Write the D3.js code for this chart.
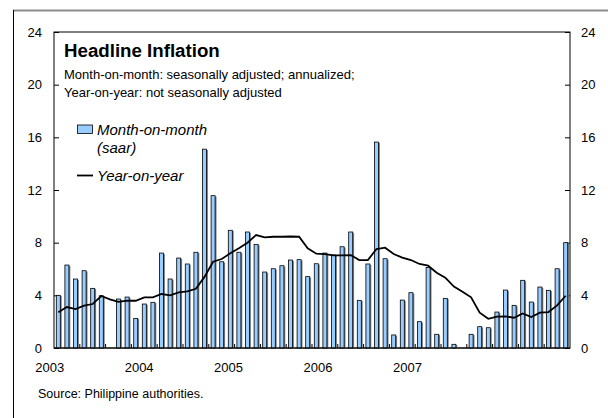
<!DOCTYPE html>
<html><head><meta charset="utf-8">
<script src="https://cdn.jsdelivr.net/npm/d3@7"></script>
<style>body{margin:0;background:#fff}svg{display:block;font-family:"Liberation Sans",Arial,sans-serif}</style>
</head><body><svg id="c" width="608" height="418"></svg>
<script>
const months = d3.range(60).map(i => new Date(2003 + Math.floor(i/12), i%12, 1));
const yearLabels = ["2003","2004","2005","2006","2007"];
const yTicks = [0,4,8,12,16,20,24];
// Month-on-month, seasonally adjusted annualized (null = no bar)
const momValues = [
 4.0, 6.3, 5.24, 5.87, 4.53, 3.97, null, 3.72, 3.87, 2.25, 3.34, 3.47,
 7.21, 5.24, 6.83, 6.38, 7.27, 15.1, 11.57, 6.55, 8.94, 7.27, 8.81, 7.87,
 5.77, 6.02, 6.25, 6.68, 6.71, 5.42, 6.4, 7.21, 7.06, 7.69, 8.81, 3.62,
 6.38, 15.64, 6.78, 0.99, 3.64, 4.2, 2.0, 6.12, 1.04, 3.77, 0.28, null,
 1.04, 1.62, 1.54, 2.73, 4.4, 3.24, 5.14, 3.49, 4.63, 4.38, 6.02, 8.0];
// Year-on-year
const yoyValues = [
 2.72, 3.11, 2.96, 3.21, 3.34, 3.95, 3.7, 3.5, 3.59, 3.59, 3.85, 3.85,
 4.1, 4.0, 4.23, 4.3, 4.5, 5.4, 6.55, 6.76, 7.19, 7.57, 8.0, 8.58,
 8.4, 8.45, 8.45, 8.47, 8.45, 7.57, 7.16, 7.13, 7.04, 7.04, 7.06, 6.68,
 6.68, 7.52, 7.62, 7.14, 6.86, 6.68, 6.38, 6.25, 5.72, 5.34, 4.66, 4.28,
 3.85, 2.68, 2.22, 2.38, 2.4, 2.3, 2.63, 2.35, 2.68, 2.73, 3.24, 3.97];

const svg = d3.select("#c");
const L = 54, R = 570, T = 32, B = 348;
const p = 0.535;
const x = d3.scaleBand().domain(d3.range(60)).range([L, R]).paddingInner(p).paddingOuter(p/2);
const xm = d3.scaleLinear().domain([0, 60]).range([L, R]);
const y = d3.scaleLinear().domain([0, 24]).range([B, T]);

// outer frame
svg.append("line").attr("x1",13).attr("x2",608).attr("y1",10.5).attr("y2",10.5).attr("stroke","#8c8c8c").attr("stroke-width",2);
svg.append("line").attr("x1",13.5).attr("x2",13.5).attr("y1",10).attr("y2",418).attr("stroke","#000").attr("stroke-width",1);

// plot frame
svg.append("rect").attr("x",L).attr("y",T).attr("width",R-L).attr("height",B-T).attr("fill","none").attr("stroke","#000").attr("stroke-width",1);

// y axes with inward ticks
const yl = svg.append("g").attr("transform",`translate(${L},0)`)
  .call(d3.axisRight(y).tickValues(yTicks).tickSize(5).tickFormat(""));
yl.select(".domain").remove();
yl.selectAll("line").attr("stroke","#000");
const yr = svg.append("g").attr("transform",`translate(${R},0)`)
  .call(d3.axisLeft(y).tickValues(yTicks).tickSize(5).tickFormat(""));
yr.select(".domain").remove();
yr.selectAll("line").attr("stroke","#000");
svg.append("g").selectAll("text").data(yTicks).join("text")
  .attr("x",42).attr("y",d=>y(d)+4.5).attr("text-anchor","end").attr("font-size",13).text(d=>d);
svg.append("g").selectAll("text").data(yTicks).join("text")
  .attr("x",581).attr("y",d=>y(d)+4.5).attr("text-anchor","start").attr("font-size",13).text(d=>d);

// bars
const barData = momValues.map((v,i)=>({i,v})).filter(d=>d.v!=null);
svg.append("g").selectAll("rect").data(barData).join("rect")
  .attr("x",d=>x(d.i)+1.4).attr("y",d=>y(d.v)+0.8).attr("width",x.bandwidth())
  .attr("height",d=>B-y(d.v)-0.8).attr("fill","#7a7a7a");
svg.append("g").selectAll("rect").data(barData).join("rect")
  .attr("x",d=>x(d.i)).attr("y",d=>y(d.v)).attr("width",x.bandwidth())
  .attr("height",d=>B-y(d.v)).attr("fill","#99ccff").attr("stroke","#000").attr("stroke-width",0.8);

// x axis baseline and quarterly ticks
svg.append("line").attr("x1",L).attr("x2",R).attr("y1",B).attr("y2",B).attr("stroke","#000").attr("stroke-width",1.2);
svg.append("g").selectAll("line").data(d3.range(3,60,3)).join("line")
  .attr("x1",d=>xm(d)).attr("x2",d=>xm(d)).attr("y1",B).attr("y2",B-4).attr("stroke","#000");

// year labels
svg.append("g").selectAll("text").data(yearLabels).join("text")
  .attr("x",(d,i)=>xm(i*10.4-0.5)).attr("y",372).attr("text-anchor","middle").attr("font-size",13).text(d=>d);

// line
const line = d3.line().x((d,i)=>x(i)+x.bandwidth()/2).y(d=>y(d));
svg.append("path").datum(yoyValues).attr("d",line).attr("fill","none").attr("stroke","#000").attr("stroke-width",1.8);

// title & subtitle
svg.append("text").attr("x",64).attr("y",57).attr("font-size",18.7).attr("font-weight","bold").text("Headline Inflation");
svg.append("text").attr("x",64).attr("y",79).attr("font-size",13).text("Month-on-month: seasonally adjusted; annualized;");
svg.append("text").attr("x",64).attr("y",97).attr("font-size",13).text("Year-on-year: not seasonally adjusted");

// legend
svg.append("rect").attr("x",77.5).attr("y",125).attr("width",15).attr("height",8.5).attr("fill","#99ccff").attr("stroke","#000").attr("stroke-width",0.8);
svg.append("text").attr("x",97).attr("y",135).attr("font-size",15).attr("font-style","italic").text("Month-on-month");
svg.append("text").attr("x",97).attr("y",153).attr("font-size",15).attr("font-style","italic").text("(saar)");
svg.append("line").attr("x1",77).attr("x2",93).attr("y1",175.5).attr("y2",175.5).attr("stroke","#000").attr("stroke-width",1.8);
svg.append("text").attr("x",97).attr("y",181).attr("font-size",15).attr("font-style","italic").text("Year-on-year");

// source
svg.append("text").attr("x",38).attr("y",398).attr("font-size",12.5).text("Source: Philippine authorities.");
</script></body></html>
